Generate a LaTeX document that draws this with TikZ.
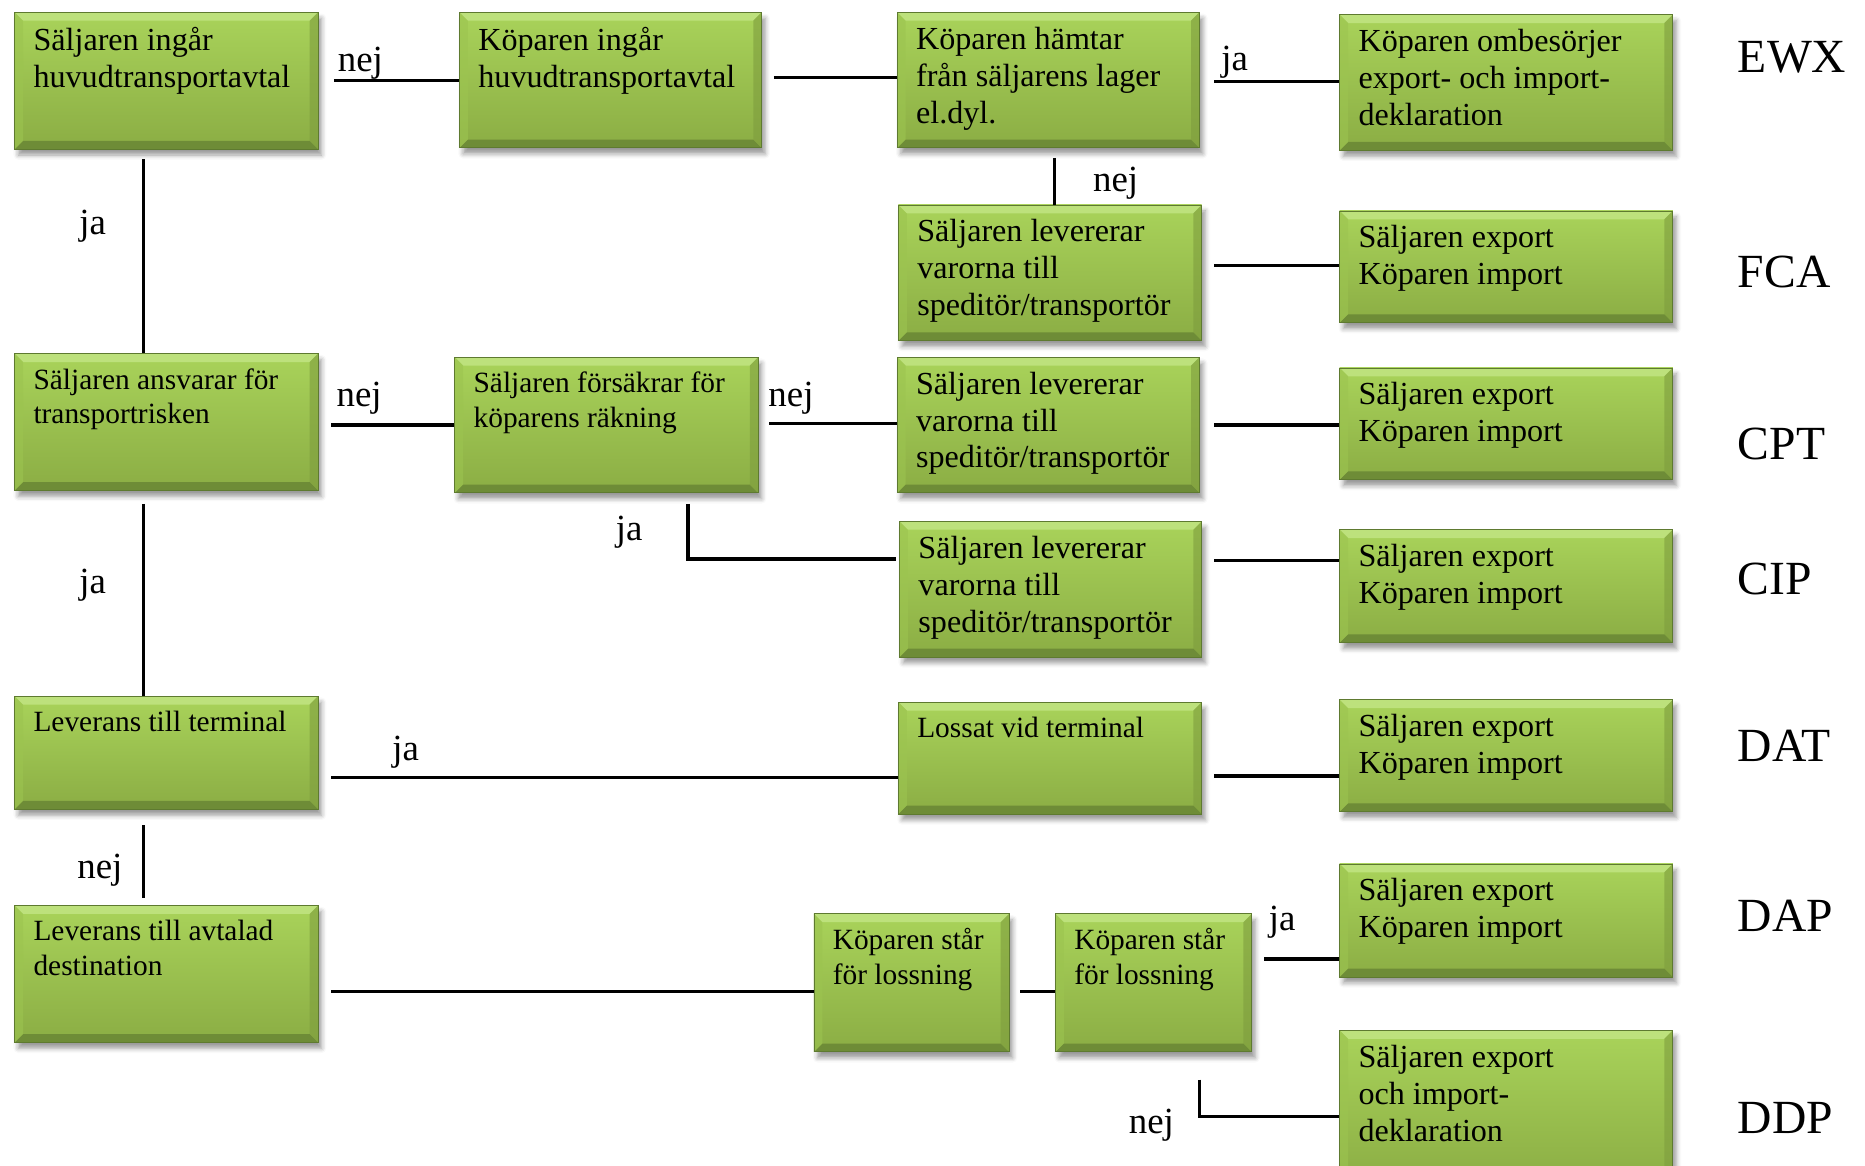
\documentclass[tikz,border=0pt]{standalone}
\usepackage{fontspec}
\setmainfont{Liberation Serif}
\newfontfamily\boxserif{Liberation Serif}
\usetikzlibrary{calc,shadows.blur}

\definecolor{gtop}{HTML}{A9D35A}
\definecolor{gbot}{HTML}{8BAD44}
\definecolor{gedge}{HTML}{5E7A30}
\definecolor{glight}{HTML}{BDE17C}
\definecolor{gdark}{HTML}{6E8C37}
\definecolor{gside}{HTML}{9CC450}
\definecolor{gsided}{HTML}{7E9D3E}

\tikzset{
  x=1pt, y=-1pt,
  gbox/.style={rectangle, inner sep=0pt, top color=gtop, bottom color=gbot,
    draw=gedge, line width=0.7pt,
    blur shadow={shadow xshift=3pt, shadow yshift=-5pt, shadow blur radius=4pt, shadow opacity=40},
    path picture={
      \fill[glight] (path picture bounding box.north west) -- (path picture bounding box.north east)
        -- ([xshift=-7pt,yshift=-7pt]path picture bounding box.north east)
        -- ([xshift=7pt,yshift=-7pt]path picture bounding box.north west) -- cycle;
      \fill[gdark] (path picture bounding box.south west) -- (path picture bounding box.south east)
        -- ([xshift=-7pt,yshift=7pt]path picture bounding box.south east)
        -- ([xshift=7pt,yshift=7pt]path picture bounding box.south west) -- cycle;
      \fill[gside, opacity=.6] (path picture bounding box.north west)
        -- ([xshift=7pt,yshift=-7pt]path picture bounding box.north west)
        -- ([xshift=7pt,yshift=7pt]path picture bounding box.south west)
        -- (path picture bounding box.south west) -- cycle;
      \fill[gsided, opacity=.6] (path picture bounding box.north east)
        -- ([xshift=-7pt,yshift=-7pt]path picture bounding box.north east)
        -- ([xshift=-7pt,yshift=7pt]path picture bounding box.south east)
        -- (path picture bounding box.south east) -- cycle;
    }},
  bigtxt/.style={inner sep=0pt, align=left, font=\boxserif\fontsize{27}{31}\selectfont},
  smalltxt/.style={inner sep=0pt, align=left, font=\boxserif\fontsize{24.7}{29}\selectfont},
  lbl/.style={inner sep=0pt, anchor=base, font=\boxserif\fontsize{31}{35}\selectfont},
  term/.style={inner sep=0pt, anchor=base west, font=\boxserif\fontsize{40}{44}\selectfont},
  hconn/.style={line width=2.7pt},
  vconn/.style={line width=2.4pt},
}

% name, x, y, width, height, text style, text
\newcommand{\greenbox}[7]{%
  \node[gbox, minimum width=#4pt, minimum height=#5pt, anchor=north west] (#1) at (#2,#3) {};
  \node[#6, anchor=north west] (#1-t) at ($(#1.north west)+(16,12.5)$) {#7};
}

\begin{document}
\begin{tikzpicture}
\useasboundingbox (0,0) rectangle (1568,980);

% decision and outcome boxes
\greenbox{A}{12}{10}{255}{115}{bigtxt}{Säljaren ingår\\huvudtransportavtal}
\greenbox{B}{386}{10}{254}{114}{bigtxt}{Köparen ingår\\huvudtransportavtal}
\greenbox{C}{754}{10}{254}{114}{bigtxt}{Köparen hämtar\\från säljarens lager\\el.dyl.}
\greenbox{D}{1126}{12}{280}{114}{bigtxt}{Köparen ombesörjer\\export- och import-\\deklaration}
\greenbox{E}{755}{172}{255}{114}{bigtxt}{Säljaren levererar\\varorna till\\speditör/transportör}
\greenbox{F}{1126}{177}{280}{94}{bigtxt}{Säljaren export\\Köparen import}
\greenbox{G}{12}{297}{255}{115}{smalltxt}{Säljaren ansvarar för\\transportrisken}
\greenbox{H}{382}{300}{255}{114}{smalltxt}{Säljaren försäkrar för\\köparens räkning}
\greenbox{I}{754}{300}{254}{114}{bigtxt}{Säljaren levererar\\varorna till\\speditör/transportör}
\greenbox{J}{1126}{309}{280}{94}{bigtxt}{Säljaren export\\Köparen import}
\greenbox{K}{756}{438}{254}{114}{bigtxt}{Säljaren levererar\\varorna till\\speditör/transportör}
\greenbox{L}{1126}{445}{280}{95}{bigtxt}{Säljaren export\\Köparen import}
\greenbox{M}{12}{585}{255}{95}{smalltxt}{Leverans till terminal}
\greenbox{N}{755}{590}{255}{94}{smalltxt}{Lossat vid terminal}
\greenbox{O}{1126}{588}{280}{94}{bigtxt}{Säljaren export\\Köparen import}
\greenbox{P}{12}{761}{255}{115}{smalltxt}{Leverans till avtalad\\destination}
\greenbox{Q}{684}{768}{164}{116}{smalltxt}{Köparen står\\för lossning}
\greenbox{R}{887}{768}{165}{116}{smalltxt}{Köparen står\\för lossning}
\greenbox{S}{1126}{726}{280}{95}{bigtxt}{Säljaren export\\Köparen import}
\greenbox{T}{1126}{866}{280}{130}{bigtxt}{Säljaren export\\och import-\\deklaration}

% Incoterms
\node[term] (ewx) at (1461,61) {EWX};
\node[term] (fca) at (1461,242) {FCA};
\node[term] (cpt) at (1461,386) {CPT};
\node[term] (cip) at (1461,500) {CIP};
\node[term] (dat) at (1461,640) {DAT};
\node[term] (dap) at (1461,783) {DAP};
\node[term] (ddp) at (1461,953) {DDP};

% connectors
\draw[hconn] ($(A.east)+(13,0)$) -- (A.east -| B.west);
\draw[hconn] ($(B.east)+(10,-2)$) coordinate (b1) -- (b1 -| C.west);
\draw[hconn] ($(C.east)+(12,1)$) coordinate (c2) -- (c2 -| D.west);
\draw[vconn] ($(C.south)+(5,8)$) coordinate (c1) -- (c1 |- E.north);
\draw[hconn] ($(E.east |- F.west)+(10,-1)$) coordinate (e1) -- (e1 -| F.west);
\draw[vconn] ($(A.south)+(-19.5,8)$) coordinate (a1) -- (a1 |- G.north);
\draw[hconn] ($(G.east |- H.west)+(11,0)$) coordinate (g1) -- (g1 -| H.west);
\draw[hconn] ($(H.east)+(9,-1)$) coordinate (h2) -- (h2 -| I.west);
\draw[hconn] ($(H.south)+(68.5,9)$) coordinate (h1) |- ($(K.north west)+(-3,32)$) coordinate (k0);
\draw[hconn] ($(I.east)+(12,0)$) coordinate (i1) -- (i1 -| J.west);
\draw[hconn] ($(K.north east)+(10,33)$) coordinate (k1) -- (k1 -| L.west);
\draw[vconn] ($(G.south)+(-19.5,11)$) coordinate (g2) -- (g2 |- M.north);
\draw[hconn] ($(M.east)+(11,20.5)$) coordinate (m1) -- (m1 -| N.west);
\draw[hconn] ($(N.east)+(10,15)$) coordinate (n1) -- (n1 -| O.west);
\draw[vconn, shorten >=6pt] ($(M.south)+(-19.5,13)$) coordinate (m2) -- (m2 |- P.north);
\draw[hconn] ($(P.east)+(11,14.5)$) coordinate (p1) -- (p1 -| Q.west);
\draw[hconn] ($(Q.east)+(9,7)$) coordinate (q1) -- (q1 -| R.west);
\draw[hconn] ($(R.east)+(10,-20)$) coordinate (r2) -- (r2 -| S.west);
\draw[hconn] ($(R.south)+(38.5,23)$) coordinate (r1) |- ($(T.north west)+(0,73)$);

% answers
\node[lbl] (l1) at (303,60) {nej};
\node[lbl] (l2) at (1038,59) {ja};
\node[lbl] (l3) at (938,161) {nej};
\node[lbl] (l4) at (78,197) {ja};
\node[lbl] (l5) at (302,342) {nej};
\node[lbl] (l6) at (665,342) {nej};
\node[lbl] (l7) at (529,454) {ja};
\node[lbl] (l8) at (78,499) {ja};
\node[lbl] (l9) at (341,639) {ja};
\node[lbl] (l10) at (84,739) {nej};
\node[lbl] (l11) at (1078,782) {ja};
\node[lbl] (l12) at (968,953) {nej};
\end{tikzpicture}
\end{document}
